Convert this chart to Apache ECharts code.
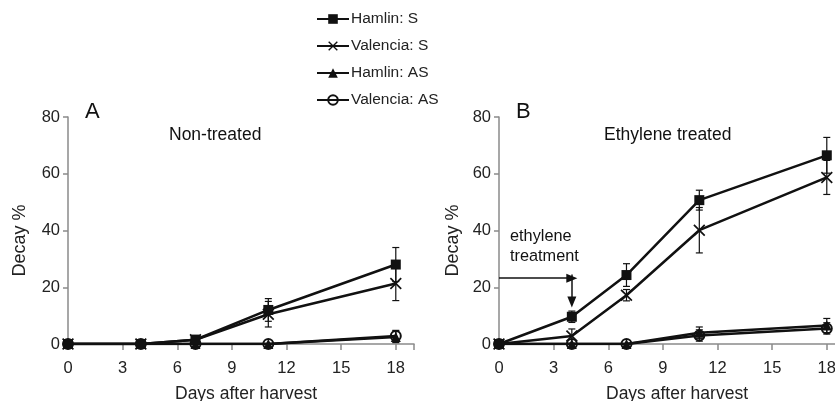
<!DOCTYPE html>
<html><head><meta charset="utf-8">
<script src="https://cdn.jsdelivr.net/npm/echarts@6/dist/echarts.min.js"></script>
<style>html,body{margin:0;padding:0;background:#fff}#c{width:835px;height:401px}</style>
</head><body><div id="c"></div>
<script>
const days = [0, 4, 7, 11, 18];
const seriesNames = ['Hamlin: S', 'Valencia: S', 'Hamlin: AS', 'Valencia: AS'];
const xTicks = [0, 3, 6, 9, 12, 15, 18];
const yTicks = [0, 20, 40, 60, 80];

// Panel A (Non-treated)
const A_hamlinS = [0, 0, 1.5, 12, 28];
const A_hamlinS_err = [0, 0, 1.5, 4, 6];
const A_valenciaS = [0, 0, 1.5, 10.5, 21.3];
const A_valenciaS_err = [0, 0, 1.5, 4.5, 6];
const A_hamlinAS = [0, 0, 0, 0, 2.5];
const A_hamlinAS_err = [0, 0, 0, 0, 2];
const A_valenciaAS = [0, 0, 0, 0, 2.8];
const A_valenciaAS_err = [0, 0, 0, 0, 2];

// Panel B (Ethylene treated)
const B_hamlinS = [0, 9.6, 24.3, 50.7, 66.5];
const B_hamlinS_err = [0, 2, 4, 3.5, 6.3];
const B_valenciaS = [0, 2.8, 17.2, 40.1, 58.7];
const B_valenciaS_err = [0, 2.5, 2, 8, 6];
const B_hamlinAS = [0, 0, 0, 4, 6.5];
const B_hamlinAS_err = [0, 0, 0, 2, 2.5];
const B_valenciaAS = [0, 0, 0, 3, 5.5];
const B_valenciaAS_err = [0, 0, 0, 2, 2];

// ethylene treatment arrows (day, value)
const arrowH = [[0, 23.2], [4, 23.2]];
const arrowV = [[4, 24.5], [4, 14.8]];

const FONT = "'Liberation Sans', Arial, sans-serif";
const INK = '#111';
const AXIS = '#8a8a8a';

const crossPath = 'path://M0,1L1,0L5,4L9,0L10,1L6,5L10,9L9,10L5,6L1,10L0,9L4,5Z';
const symbols = ['rect', crossPath, 'triangle', 'circle'];
const sizes = [10, 12, 10, 10];

const chart = echarts.init(document.getElementById('c'));

function pairs(vals) { return days.map((d, i) => [d, vals[i]]); }

function lineSeries(name, idx, vals, gi) {
  return {
    type: 'line', name: name, xAxisIndex: gi, yAxisIndex: gi,
    data: pairs(vals), symbol: symbols[idx], symbolSize: sizes[idx],
    showAllSymbol: true, z: 5,
    lineStyle: { color: INK, width: 2.5 },
    itemStyle: idx === 3
      ? { color: 'rgba(255,255,255,0)', borderColor: INK, borderWidth: 2 }
      : { color: INK, borderWidth: 0 },
    animation: false
  };
}

function errSeries(vals, errs, gi) {
  return {
    type: 'custom', xAxisIndex: gi, yAxisIndex: gi, z: 4, silent: true,
    data: days.map((d, i) => [d, vals[i] - errs[i], vals[i] + errs[i]]).filter((p, i) => errs[i] > 0),
    renderItem: function (params, api) {
      const lo = api.coord([api.value(0), api.value(1)]);
      const hi = api.coord([api.value(0), api.value(2)]);
      const w = 3.5;
      return {
        type: 'group', children: [
          { type: 'line', shape: { x1: lo[0], y1: lo[1], x2: hi[0], y2: hi[1] }, style: { stroke: INK, lineWidth: 1.2 } },
          { type: 'line', shape: { x1: lo[0] - w, y1: lo[1], x2: lo[0] + w, y2: lo[1] }, style: { stroke: INK, lineWidth: 1.2 } },
          { type: 'line', shape: { x1: hi[0] - w, y1: hi[1], x2: hi[0] + w, y2: hi[1] }, style: { stroke: INK, lineWidth: 1.2 } }
        ]
      };
    },
    animation: false
  };
}

function xAxis(gi) {
  return {
    type: 'value', gridIndex: gi, min: 0, max: 19, interval: 3,
    name: 'Days after harvest', nameLocation: 'middle', nameGap: 41,
    nameTextStyle: { fontFamily: FONT, fontSize: 17.5, color: '#222', padding: [0, 0, 0, 10] },
    axisLine: { show: true, onZero: false, lineStyle: { color: AXIS, width: 1.5 } },
    axisTick: { show: true, length: 6, lineStyle: { color: AXIS, width: 1.5 } },
    axisLabel: { fontFamily: FONT, fontSize: 16.5, color: '#222', margin: 16,
      formatter: v => xTicks.includes(v) ? String(v) : '' },
    splitLine: { show: false }
  };
}
function yAxis(gi) {
  return {
    type: 'value', gridIndex: gi, min: 0, max: 80, interval: 20,
    name: 'Decay %', nameLocation: 'middle', nameGap: gi === 0 ? 39 : 37, nameRotate: 90,
    nameTextStyle: { fontFamily: FONT, fontSize: 18, color: '#222', padding: [0, 20, 0, 0] },
    axisLine: { show: true, lineStyle: { color: AXIS, width: 1.5 } },
    axisTick: { show: true, length: 5, lineStyle: { color: AXIS, width: 1.5 } },
    axisLabel: { fontFamily: FONT, fontSize: 16.5, color: '#222', margin: 8,
      formatter: v => yTicks.includes(v) ? String(v) : '' },
    splitLine: { show: false }
  };
}

const series = [];
const A = [A_hamlinS, A_valenciaS, A_hamlinAS, A_valenciaAS];
const Ae = [A_hamlinS_err, A_valenciaS_err, A_hamlinAS_err, A_valenciaAS_err];
const B = [B_hamlinS, B_valenciaS, B_hamlinAS, B_valenciaAS];
const Be = [B_hamlinS_err, B_valenciaS_err, B_hamlinAS_err, B_valenciaAS_err];
for (let i = 0; i < 4; i++) {
  series.push(errSeries(A[i], Ae[i], 0));
  series.push(errSeries(B[i], Be[i], 1));
}
// draw AS first so S lines on top
for (let i = 3; i >= 0; i--) {
  series.push(lineSeries(seriesNames[i], i, A[i], 0));
  series.push(lineSeries(seriesNames[i], i, B[i], 1));
}
// arrows
series.push({
  type: 'line', xAxisIndex: 1, yAxisIndex: 1, data: [], silent: true,
  markLine: {
    silent: true, animation: false,
    symbol: ['none', 'triangle'], symbolSize: [9, 11],
    lineStyle: { color: INK, width: 1.5, type: 'solid' },
    label: { show: false },
    data: [
      [{ coord: arrowH[0], symbol: 'none' }, { coord: arrowH[1], symbol: 'triangle', symbolRotate: -90 }],
      [{ coord: arrowV[0], symbol: 'none' }, { coord: arrowV[1], symbol: 'triangle', symbolRotate: 180 }]
    ]
  }
});

chart.setOption({
  animation: false,
  backgroundColor: '#fff',
  grid: [
    { left: 68, top: 117, width: 346, height: 227, outerBoundsMode: 'none', containLabel: false },
    { left: 499, top: 117, width: 346, height: 227, outerBoundsMode: 'none', containLabel: false }
  ],
  xAxis: [xAxis(0), xAxis(1)],
  yAxis: [yAxis(0), yAxis(1)],
  legend: {
    data: seriesNames, orient: 'vertical', left: 311, top: 6,
    itemWidth: 32, itemHeight: 12, itemGap: 11,
    textStyle: { fontFamily: FONT, fontSize: 15.5, color: '#222', padding: [0, 0, 0, -3] },
    selectedMode: false
  },
  graphic: [
    { type: 'text', left: 85, top: 101, style: { text: 'A', font: '22px ' + FONT, fill: '#111' } },
    { type: 'text', left: 169, top: 126, style: { text: 'Non-treated', font: '17.5px ' + FONT, fill: '#111' } },
    { type: 'text', left: 516, top: 101, style: { text: 'B', font: '22px ' + FONT, fill: '#111' } },
    { type: 'text', left: 604, top: 126, style: { text: 'Ethylene treated', font: '17.5px ' + FONT, fill: '#111' } },
    { type: 'text', left: 510, top: 227, style: { text: 'ethylene\ntreatment', font: '16.3px ' + FONT, fill: '#111', lineHeight: 20 } }
  ],
  series: series
});
</script></body></html>
